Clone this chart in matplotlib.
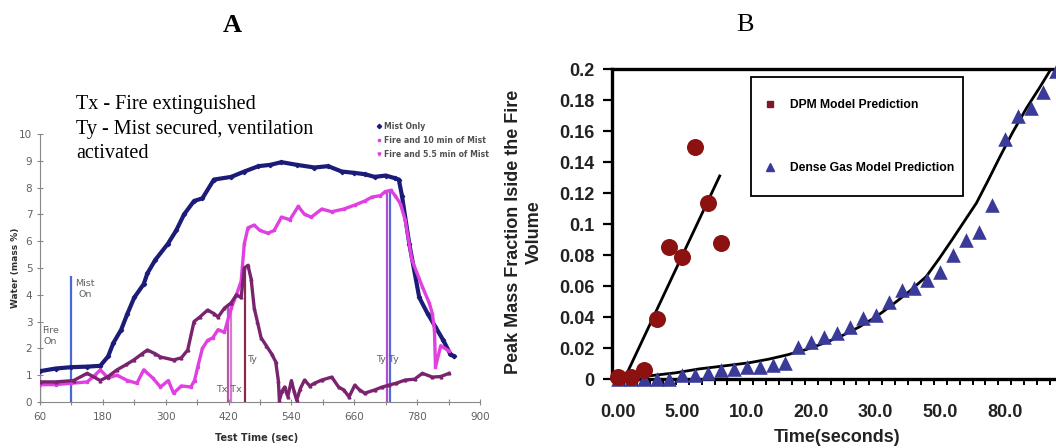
import numpy as np
import matplotlib
matplotlib.use("Agg")
import matplotlib.pyplot as plt
from matplotlib.lines import Line2D
from matplotlib.patches import Rectangle

# ---------------- Panel A data ----------------
a_xticks = [60, 180, 300, 420, 540, 660, 780, 900]
a_yticks = list(range(0, 11))

mist_only_t = [60, 90, 120, 150, 175, 190, 200, 215, 227, 240, 258, 265, 280, 304, 320, 335,
               354, 370, 392, 425, 450, 477, 500, 521, 550, 584, 610, 636, 660, 680, 699, 720,
               738, 745, 751, 765, 784, 800, 815, 830, 843, 850]
mist_only_v = [1.15, 1.25, 1.3, 1.32, 1.35, 1.7, 2.2, 2.7, 3.3, 3.9, 4.4, 4.8, 5.3, 5.9, 6.4, 7.0,
               7.5, 7.6, 8.3, 8.4, 8.6, 8.8, 8.85, 8.95, 8.85, 8.75, 8.8, 8.6, 8.55, 8.5, 8.4, 8.45,
               8.35, 8.3, 7.7, 5.9, 3.9, 3.3, 2.8, 2.3, 1.8, 1.7]

fire10_t = [60, 90, 120, 150, 165, 175, 190, 207, 227, 245, 258, 275, 290, 305, 315, 330, 348, 355,
            361, 370, 380, 390, 400, 412, 425, 435, 444, 450, 457, 469, 480, 495, 507, 521, 537, 553,
            565, 578, 598, 617, 640, 661, 680, 694, 710, 719, 730, 738, 748, 757, 770, 790, 803, 809,
            813, 815, 825, 841]
fire10_v = [0.65, 0.65, 0.7, 0.75, 1.0, 1.2, 0.9, 1.0, 0.8, 0.7, 1.2, 0.9, 0.56, 0.8, 0.33, 0.6, 0.56, 0.8,
            1.3, 2.0, 2.3, 2.4, 2.7, 2.6, 3.5, 4.0, 4.5, 5.9, 6.5, 6.6, 6.4, 6.3, 6.4, 6.9, 6.8, 7.3,
            7.0, 6.9, 7.2, 7.1, 7.2, 7.35, 7.5, 7.65, 7.7, 7.85, 7.9, 7.7, 7.4, 6.8, 5.3, 4.3, 3.7, 3.3,
            2.7, 1.3, 2.1, 1.9]

fire55_t = [60, 90, 124, 150, 175, 190, 207, 225, 239, 255, 265, 280, 290, 315, 330, 342, 354, 365,
            380, 392, 400, 412, 425, 435, 444, 450, 457, 463, 469, 475, 482, 492, 502, 510, 515, 517,
            522, 527, 533, 540, 545, 550, 557, 565, 575, 584, 598, 617, 630, 640, 650, 661, 670, 680,
            699, 712, 726, 740, 757, 775, 790, 809, 825, 841]
fire55_v = [0.75, 0.75, 0.8, 1.07, 0.8, 0.95, 1.2, 1.4, 1.57, 1.8, 1.94, 1.8, 1.68, 1.57, 1.65, 1.94, 3.0, 3.17,
            3.43, 3.3, 3.17, 3.5, 3.7, 4.0, 3.9, 5.0, 5.1, 4.6, 3.5, 3.0, 2.4, 2.1, 1.8, 1.5, 0.8, 0.07,
            0.4, 0.56, 0.2, 0.8, 0.4, 0.07, 0.5, 0.82, 0.6, 0.7, 0.82, 0.93, 0.56, 0.45, 0.19, 0.63, 0.45, 0.33,
            0.45, 0.55, 0.63, 0.7, 0.82, 0.85, 1.07, 0.93, 0.95, 1.07]

event_t = [60, 120, 419, 425, 452, 723, 728]
event_top = [2.9, 4.7, 3.6, 3.6, 5.0, 7.9, 7.9]
event_colors = ["#e8201c", "#4a68d8", "#b05aa8", "#d878d0", "#8b2a4a", "#b050d0", "#5868d8"]

series_labels_a = ["Mist Only", "Fire and 10 min of Mist", "Fire and 5.5 min of Mist"]

# ---------------- Panel B data ----------------
b_xtick_pos = [0, 5, 10, 15, 20, 25, 30]
b_xtick_labels = ["0.00", "5.00", "10.0", "20.0", "30.0", "50.0", "80.0"]
b_yticks = [0, 0.02, 0.04, 0.06, 0.08, 0.1, 0.12, 0.14, 0.16, 0.18, 0.2]
b_ytick_labels = ["0", "0.02", "0.04", "0.06", "0.08", "0.1", "0.12", "0.14", "0.16", "0.18", "0.2"]

dpm_x = [0, 1, 2, 3, 4, 5, 6, 7, 8]
dpm_y = [0.001, 0.001, 0.0055, 0.0385, 0.085, 0.079, 0.150, 0.1135, 0.088]

dense_x = list(range(0, 35))
dense_y = [0.0, 0.0, 0.0, 0.0, 0.0, 0.0026, 0.0026, 0.004, 0.0055, 0.0065, 0.008, 0.0075,
           0.009, 0.0103, 0.0206, 0.0239, 0.0271, 0.0297, 0.0335, 0.0394, 0.0413, 0.0497,
           0.0574, 0.0587, 0.0639, 0.069, 0.080, 0.0897, 0.0948, 0.112, 0.155, 0.170,
           0.175, 0.185, 0.199]

dpm_fit_x = [0.5, 7.9]
dpm_fit_y = [0.0, 0.131]

dense_fit_x = [2.4, 4.5, 6.3, 8.3, 10.2, 11.7, 13.1, 14.6, 16.1, 17.4, 18.7, 20.0, 21.3, 22.6,
               23.9, 24.9, 25.9, 26.8, 27.8, 28.7, 29.6, 30.6, 31.7, 32.7, 33.8]
dense_fit_y = [0.002, 0.004, 0.0065, 0.0085, 0.0105, 0.0128, 0.0155, 0.019, 0.0235, 0.028, 0.0335,
               0.040, 0.048, 0.0565, 0.066, 0.0775, 0.0897, 0.101, 0.1135, 0.128, 0.143, 0.159,
               0.175, 0.188, 0.203]

legend_labels_b = ["DPM Model Prediction", "Dense Gas Model Prediction"]

# ---------------- Figure ----------------
W, H = 1056, 448
fig = plt.figure(figsize=(W / 100, H / 100), dpi=100)
fig.patch.set_facecolor("white")


def rect(l, t, r, b):
    return [l / W, 1 - b / H, (r - l) / W, (b - t) / H]


# ---- Panel A ----
axA = fig.add_axes(rect(40, 134, 480, 402))
axA.set_xlim(60, 900)
axA.set_ylim(0, 10)
for s in ["top", "right"]:
    axA.spines[s].set_visible(False)
for s in ["left", "bottom"]:
    axA.spines[s].set_color("#888888")
    axA.spines[s].set_linewidth(0.8)
axA.set_xticks(a_xticks)
axA.set_xticks([t + 60 for t in a_xticks[:-1]], minor=True)
axA.set_yticks(a_yticks)
axA.tick_params(axis="both", which="both", direction="inout", length=5, width=0.8,
                color="#888888", labelsize=7.5, labelcolor="#606060")
axA.tick_params(axis="x", pad=5)
axA.tick_params(axis="y", pad=3)

axA.vlines(event_t, 0, event_top, colors=event_colors, linewidth=1.6, zorder=2)

axA.plot(mist_only_t, mist_only_v, color="#1c1c78", lw=3.0, marker="D", ms=2.2, zorder=3)
axA.plot(fire10_t, fire10_v, color="#e040e0", lw=2.4, marker="s", ms=2.0, zorder=3)
axA.plot(fire55_t, fire55_v, color="#7a2470", lw=2.4, marker="^", ms=2.0, zorder=4)

txt_kw = dict(fontsize=6.8, color="#606060", ha="center", va="center", linespacing=1.3)
axA.text(80, 2.45, "Fire\nOn", **txt_kw)
axA.text(146, 4.2, "Mist\nOn", **txt_kw)
axA.text(421, 0.45, "Tx Tx", **txt_kw)
axA.text(464, 1.6, "Ty", **txt_kw)
axA.text(724, 1.6, "Ty Ty", **txt_kw)

axA.set_xlabel("Test Time (sec)", fontsize=7, fontweight="bold", color="#303030")
axA.xaxis.set_label_coords((257 - 40) / 440, -0.115)
axA.set_ylabel("Water (mass %)", fontsize=6.5, fontweight="bold", color="#303030")
axA.yaxis.set_label_coords(-0.045, 0.5)

fig.text(76 / W, 1 - 129 / H, "Tx - Fire extinguished\nTy - Mist secured, ventilation\nactivated",
         family="Liberation Serif", fontsize=14.5, va="center", ha="left", linespacing=1.36)

handles_a = [Line2D([], [], ls="none", marker="D", ms=2.2, color="#1c1c78"),
             Line2D([], [], ls="none", marker="s", ms=2.0, color="#e040e0"),
             Line2D([], [], ls="none", marker="v", ms=2.2, color="#e040e0")]
axA.legend(handles_a, series_labels_a, loc="upper left",
           bbox_to_anchor=(377 / W, 1 - 122 / H), bbox_transform=fig.transFigure,
           frameon=False, prop=dict(size=5.6, weight="bold"), labelcolor="#505050",
           handlelength=0.6, handletextpad=0.3, labelspacing=0.62, borderpad=0, borderaxespad=0)

fig.text(232 / W, 1 - 25 / H, "A", family="Liberation Serif", fontsize=19, fontweight="bold",
         ha="center", va="center")
fig.text(745 / W, 1 - 25 / H, "B", family="Liberation Serif", fontsize=19,
         ha="center", va="center")

# ---- Panel B ----
plt.rcParams["font.family"] = ["Liberation Sans", "DejaVu Sans"]
axB = fig.add_axes(rect(612, 69, 1056, 379))
axB.set_xlim(-0.45, 33.97)
axB.set_ylim(0, 0.2)
axB.spines["right"].set_visible(False)
for s in ["top", "left", "bottom"]:
    axB.spines[s].set_linewidth(2.4)
    axB.spines[s].set_color("black")

axB.set_yticks(b_yticks)
axB.set_yticklabels(b_ytick_labels, fontsize=13, fontweight="bold", family="Liberation Sans")
axB.set_xticks(b_xtick_pos)
axB.set_xticklabels(b_xtick_labels, fontsize=13, fontweight="bold", family="Liberation Sans")
axB.set_xticks([k + 0.5 for k in range(0, 34)], minor=True)
axB.tick_params(axis="y", direction="out", length=6.5, width=1.6, pad=6, colors="black",
                labelcolor="#222222")
axB.tick_params(axis="x", which="major", length=0, pad=18, labelcolor="#222222")
axB.tick_params(axis="x", which="minor", direction="out", length=4.5, width=1.4)

axB.plot(dense_fit_x, dense_fit_y, color="black", lw=2.0, zorder=3)
axB.plot(dpm_fit_x, dpm_fit_y, color="black", lw=2.0, zorder=3)
axB.scatter(dense_x, dense_y, marker="^", s=110, color="#3a3a98", zorder=4, clip_on=False,
            linewidths=0)
axB.scatter(dpm_x, dpm_y, marker="o", s=150, color="#8c1212", zorder=5, clip_on=False,
            linewidths=0)

axB.text((837 - 612) / 444, (379 - 437) / 310, "Time(seconds)", transform=axB.transAxes,
         fontsize=13, fontweight="bold", ha="center", va="center", color="#222222")
axB.text((524 - 612) / 444, (379 - 232) / 310, "Peak Mass Fraction Iside the Fire\nVolume",
         transform=axB.transAxes, rotation=90, fontsize=13, fontweight="bold",
         ha="center", va="center", multialignment="center", linespacing=1.3, color="#222222")

# legend box (frame drawn separately to match the reference's padding)
box = Rectangle(((751 - 612) / 444, (379 - 196) / 310), 212 / 444, 119 / 310,
                transform=axB.transAxes, facecolor="white", edgecolor="black", lw=1.3,
                zorder=6, clip_on=False)
axB.add_patch(box)
handles_b = [Line2D([], [], ls="none", marker="s", ms=4.5, color="#7a1a2a"),
             Line2D([], [], ls="none", marker="^", ms=6, color="#3a3a98")]
legB = axB.legend(handles_b, legend_labels_b, loc="upper left",
                  bbox_to_anchor=((767.5 - 612) / 444, (379 - 99) / 310),
                  prop=dict(size=8.7, weight="bold"), frameon=False,
                  borderpad=0, labelspacing=4.2, handlelength=0.4, handletextpad=1.45,
                  borderaxespad=0)
legB.set_zorder(7)

fig.savefig("out.png", dpi=100, facecolor="white")
